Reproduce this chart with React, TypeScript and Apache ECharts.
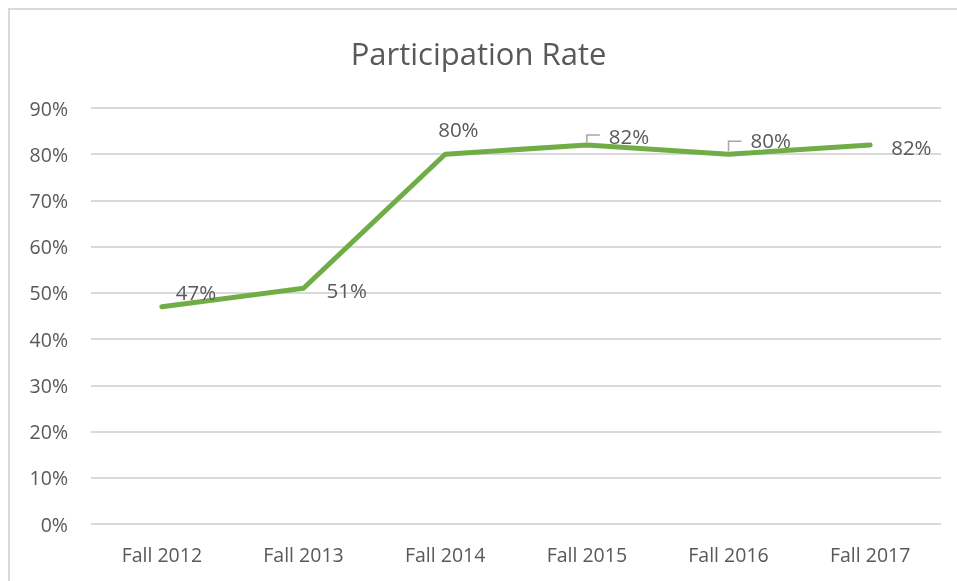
import React, { useEffect, useRef } from "react";
import * as echarts from "echarts";

const categories = ["Fall 2012", "Fall 2013", "Fall 2014", "Fall 2015", "Fall 2016", "Fall 2017"];
const rates = [47, 51, 80, 82, 80, 82];
const yTicks = [0, 10, 20, 30, 40, 50, 60, 70, 80, 90];

// label placement (style only): shift from the default "right" position
const labelShift: number[][] = [
  [9, -15],
  [18, 2],
  [-12, -25],
  [17, -9],
  [17, -14],
  [16, 2],
];
// leader line (elbow) for some labels: category index -> [rise, run]
const leaderIndex = [3, 4];
const leaderShape: number[][] = [
  [10, 13],
  [13, 13],
];

const FONT = "'Open Sans', sans-serif";
const TEXT = "#595959";

export default function App() {
  const ref = useRef<HTMLDivElement>(null);
  useEffect(() => {
    if (!ref.current) return;
    const chart = echarts.init(ref.current, null, { renderer: "svg" });
    const leaderData = leaderIndex.map((ci, k) => [ci, rates[ci], leaderShape[k][0], leaderShape[k][1]]);
    chart.setOption({
      animation: false,
      title: {
        text: "Participation Rate",
        left: "center",
        top: 32,
        textStyle: { fontFamily: FONT, fontSize: 31, fontWeight: "normal", color: TEXT },
      },
      grid: { left: 91, right: 16, top: 108, bottom: 57, containLabel: false },
      xAxis: {
        type: "category",
        data: categories,
        boundaryGap: true,
        axisLine: { show: false },
        axisTick: { show: false },
        axisLabel: { fontFamily: FONT, fontSize: 19.5, color: TEXT, margin: 20 },
      },
      yAxis: {
        type: "value",
        min: yTicks[0],
        max: yTicks[yTicks.length - 1],
        interval: 10,
        axisLine: { show: false },
        axisTick: { show: false },
        axisLabel: {
          fontFamily: FONT,
          fontSize: 19.5,
          color: TEXT,
          margin: 23,
          formatter: (v: number) => v + "%",
        },
        splitLine: { lineStyle: { color: "#d9d9d9", width: 2 } },
      },
      series: [
        {
          type: "custom",
          data: leaderData,
          silent: true,
          z: 1,
          renderItem: (params: any, api: any) => {
            const p = api.coord([api.value(0), api.value(1)]);
            const rise = api.value(2);
            const run = api.value(3);
            return {
              type: "polyline",
              shape: {
                points: [
                  [p[0], p[1] - 3],
                  [p[0], p[1] - rise],
                  [p[0] + run, p[1] - rise],
                ],
              },
              style: { stroke: "#a6a6a6", lineWidth: 1.5, fill: "none" },
            };
          },
        },
        {
          type: "line",
          data: rates,
          z: 2,
          symbol: "circle",
          symbolSize: 0,
          itemStyle: { color: "#70ad47" },
          lineStyle: { color: "#70ad47", width: 5, cap: "round", join: "round" },
          label: {
            show: true,
            position: "right",
            distance: 5,
            verticalAlign: "middle",
            fontFamily: FONT,
            fontSize: 20.5,
            color: TEXT,
            formatter: (p: any) => p.value + "%",
          },
          labelLayout: (p: any) => {
            const s = labelShift[p.dataIndex];
            return { dx: s[0], dy: s[1] };
          },
        },
      ],
    });
    return () => chart.dispose();
  }, []);
  return (
    <div>
      <div
        style={{
          position: "fixed",
          left: 8,
          top: 8,
          width: 960,
          height: 600,
          borderTop: "2px solid #d9d9d9",
          borderLeft: "2px solid #d9d9d9",
          boxSizing: "border-box",
        }}
      />
      <div ref={ref} style={{ position: "fixed", left: 0, top: 0, width: 957, height: 581 }} />
    </div>
  );
}
